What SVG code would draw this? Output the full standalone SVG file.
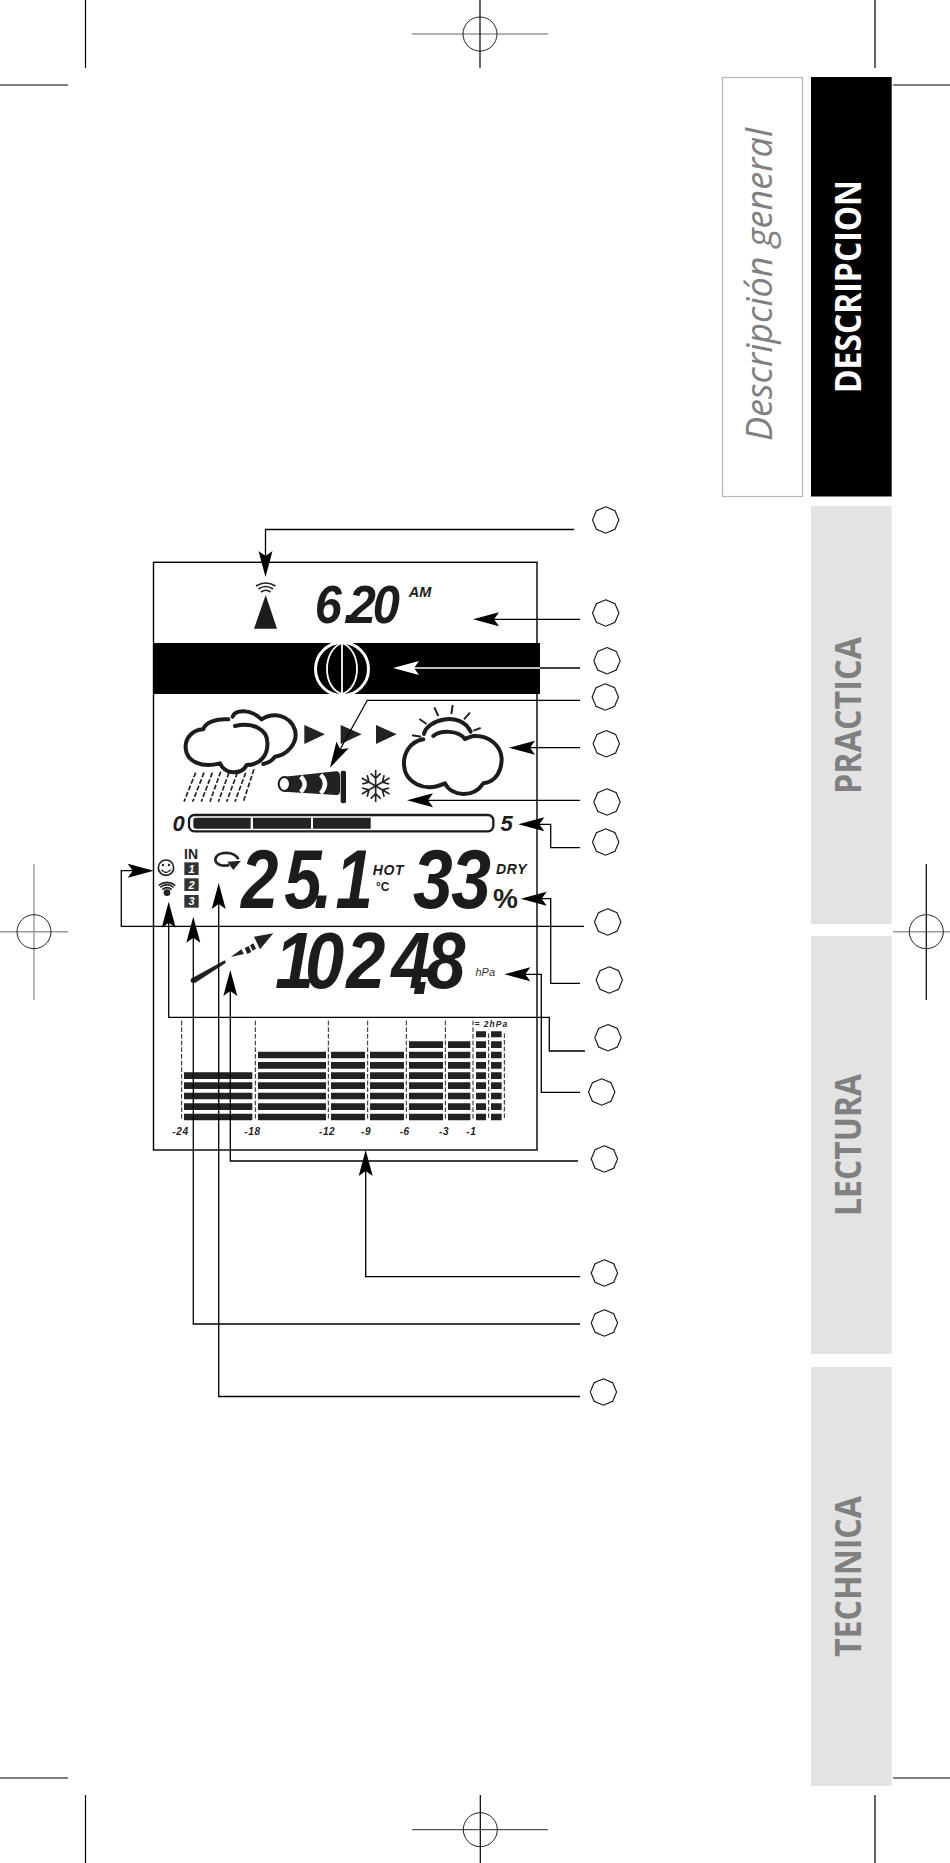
<svg xmlns="http://www.w3.org/2000/svg" width="950" height="1863" viewBox="0 0 950 1863">
<style>
text{font-family:"Liberation Sans",Arial,sans-serif}
.lcd{font-weight:700;font-style:italic;fill:#1c1c1c}
.tab{font-family:"Open Sans","Noto Sans",sans-serif;font-weight:700;font-size:35px;fill:#808080}
.conn{fill:none;stroke:#000;stroke-width:1.3}
.bk{marker-end:url(#ah)}
.oct{fill:#fff;stroke:#111;stroke-width:1.1}
.mk{stroke:#000;stroke-width:1.2;fill:none}
.mg{stroke:#999;stroke-width:1.4;fill:none}
.ic{fill:none;stroke:#1c1c1c;stroke-width:12;stroke-linecap:round;stroke-linejoin:round}
.bar{fill:#222}
.dv{stroke:#222;stroke-width:3;stroke-dasharray:14 6;fill:none}
.tk{font-weight:700;font-style:italic;font-size:10px;letter-spacing:.6px;fill:#222}
</style>
<defs>
<marker id="ah" markerUnits="userSpaceOnUse" markerWidth="32" markerHeight="18" viewBox="0 0 32 18" refX="26" refY="9" orient="auto"><path d="M5 2L31 9L5 16L10 9Z" fill="#000"/></marker>
<marker id="aw" markerUnits="userSpaceOnUse" markerWidth="32" markerHeight="18" viewBox="0 0 32 18" refX="26" refY="9" orient="auto"><path d="M5 2L31 9L5 16L10 9Z" fill="#fff"/></marker>
<polygon id="o" class="oct" points="0,-13.2 9.3,-9.3 13.2,0 9.3,9.3 0,13.2 -9.3,9.3 -13.2,0 -9.3,-9.3"/>
</defs>
<rect width="950" height="1863" fill="#fff"/>

<g id="crop-marks">
<path class="mk" d="M85.5 0V68M0 85H68M875 0V68M893 85H950M0 1778H68M85.5 1795V1863M893 1778H950M875 1795V1863"/>
<path class="mg" d="M412 34H548M34 864V1000M0 931.7H68M893 931.7H950"/>
<path class="mk" d="M480 0V68M926.3 864V1000M480.3 1795V1863"/>
<path d="M412 1829.7H548" stroke="#555" stroke-width="1.3"/>
<g fill="none" stroke="#222" stroke-width="1"><circle cx="480" cy="34" r="17"/><circle cx="34" cy="931.7" r="17"/><circle cx="926.3" cy="931.7" r="17"/><circle cx="480.3" cy="1829.7" r="17"/></g>
</g>

<g id="tab-general"><rect x="722.5" y="77.5" width="80" height="419" fill="#fff" stroke="#b5b5b5" stroke-width="1.2"/>
<text transform="translate(772.3 441) rotate(-90)" font-style="italic" font-size="36" fill="#808080" textLength="313" lengthAdjust="spacingAndGlyphs" style="font-family:'Open Sans','Noto Sans',sans-serif">Descripción general</text></g>
<g id="tab-descripcion"><rect x="811" y="77" width="80.7" height="419.5" fill="#000"/>
<text class="tab" transform="translate(861 393) rotate(-90)" style="fill:#fff" textLength="213" lengthAdjust="spacingAndGlyphs">DESCRIPCION</text></g>
<g id="tab-practica"><rect x="811" y="506" width="80.7" height="418" fill="#e3e3e3"/>
<text class="tab" transform="translate(861 794) rotate(-90)" textLength="157" lengthAdjust="spacingAndGlyphs">PRACTICA</text></g>
<g id="tab-lectura"><rect x="811" y="936" width="80.7" height="418" fill="#e3e3e3"/>
<text class="tab" transform="translate(861 1216) rotate(-90)" textLength="142" lengthAdjust="spacingAndGlyphs">LECTURA</text></g>
<g id="tab-technica"><rect x="811" y="1367" width="80.7" height="419" fill="#e3e3e3"/>
<text class="tab" transform="translate(861 1657) rotate(-90)" textLength="161" lengthAdjust="spacingAndGlyphs">TECHNICA</text></g>

<g id="display-frame"><rect x="153.5" y="562.3" width="383.5" height="587.7" fill="none" stroke="#000" stroke-width="1.4"/></g>
<g id="band"><rect x="153" y="643" width="387" height="51" fill="#000"/></g>
<g id="globe"><circle cx="342" cy="669" r="26.5" fill="#000" stroke="#fff" stroke-width="3"/>
<path d="M342 643V694M342 643C322 650 322 688 342 694M342 643C362 650 362 688 342 694" fill="none" stroke="#fff" stroke-width="1.8"/>
<rect x="310" y="694" width="64" height="5" fill="#fff"/><rect x="310" y="638" width="64" height="5" fill="#fff"/></g>

<g id="tower"><polygon points="254,628.7 277,628.7 265.7,595" fill="#1c1c1c"/>
<path d="M261 592Q265.7 588.5 270.5 592M258.5 589Q265.7 584 273 589M256 586Q265.7 580 275.5 586" fill="none" stroke="#222" stroke-width="1.6"/></g>
<g id="time"><text class="lcd" transform="translate(314.7 623.3) scale(.92 1)" font-size="53" x="0 31.5 37 63">6.20</text>
<text class="lcd" x="408.7" y="596.7" font-size="14.5">AM</text></g>

<g id="weather" transform="translate(130 500) scale(.33333)">
<path class="ic" d="M295 658C260 655 225 668 220 688C185 690 165 715 167 745C170 785 215 805 270 790C285 825 335 825 350 795C395 795 415 760 412 725C410 690 370 665 315 678"/>
<path class="ic" d="M308 650C315 630 360 625 395 658C430 635 480 645 495 690C505 730 470 765 435 770C425 785 410 790 400 792"/>
<path d="M372 808L340 905M347 818L315 905M322 818L290 905M297 818L265 905M272 815L240 905M247 818L214 905M222 818L188 905M197 818L162 905" fill="none" stroke="#222" stroke-width="5" stroke-dasharray="15 6"/>
<path class="bar" d="M523 675L585 703L523 732ZM632 675L695 703L632 732ZM738 675L800 703L738 732Z"/>
<path class="ic" d="M880 718C840 725 820 760 822 795C825 845 880 880 945 850C965 890 1030 895 1060 850C1100 845 1115 810 1115 775C1112 735 1075 705 1030 708C1015 712 1008 715 1005 717C985 690 930 690 910 708"/>
<path class="ic" d="M882 702C890 660 990 630 1022 695"/>
<path d="M913 622L925 648M968 615L964 642M1020 638L1002 658M1052 684L1030 692M868 657L890 672M846 706L874 710" fill="none" stroke="#222" stroke-width="6"/>
</g>
<g id="windsock" transform="translate(130 500) scale(.33333)">
<rect x="632" y="812" width="16" height="98" rx="6" fill="#1c1c1c"/>
<path class="bar" d="M463 830L618 814C628 814 630 822 630 830V872C630 882 625 885 618 885L463 875Z"/>
<ellipse cx="463" cy="852" rx="17" ry="21" fill="#fff" stroke="#1c1c1c" stroke-width="6"/>
<path d="M512 830Q536 852 512 876M572 824Q598 850 572 880" fill="none" stroke="#fff" stroke-width="13"/>
</g>
<g id="snowflake" transform="translate(130 500) scale(.33333)">
<g fill="none" stroke="#222" stroke-width="5"><path d="M737 810V906M722 820L737 835L752 820M722 896L737 881L752 896"/>
<path transform="rotate(60 737 858)" d="M737 810V906M722 820L737 835L752 820M722 896L737 881L752 896"/>
<path transform="rotate(120 737 858)" d="M737 810V906M722 820L737 835L752 820M722 896L737 881L752 896"/></g>
</g>
<g id="level-bar" transform="translate(130 500) scale(.33333)">
<rect x="177" y="945" width="913" height="49" rx="16" fill="#fff" stroke="#1c1c1c" stroke-width="7"/>
<path class="bar" d="M198 953H362V986H198Q190 986 190 978V961Q190 953 198 953ZM369 953H543V986H369ZM549 953H722V986H549Z"/>
</g>
<g id="level-labels"><text class="lcd" x="172.5" y="830.5" font-size="22">0</text><text class="lcd" x="500.5" y="830.5" font-size="22">5</text></g>

<g id="status-icons" transform="translate(110 820) scale(.33333)">
<circle cx="168" cy="143" r="23" fill="none" stroke="#222" stroke-width="5"/>
<circle cx="159" cy="135" r="3.5" fill="#222"/><circle cx="177" cy="135" r="3.5" fill="#222"/>
<path d="M154 149Q168 166 182 149" fill="none" stroke="#222" stroke-width="4"/>
<circle cx="171" cy="218" r="10" fill="#222"/>
<path d="M157 209Q171 197 185 209M151 202Q171 186 191 202M146 196Q171 178 196 196" fill="none" stroke="#222" stroke-width="5"/>
<path d="M385 118C375 92 320 92 316 118C316 135 340 140 358 135" fill="none" stroke="#222" stroke-width="8"/>
<path class="bar" d="M352 125L393 122L370 150Z"/>
<rect x="223" y="127" width="43" height="38" fill="#333"/><rect x="223" y="175" width="43" height="38" fill="#333"/><rect x="223" y="225" width="43" height="38" fill="#333"/>
</g>
<g id="channels"><text x="184" y="858.5" font-size="14" font-weight="700" fill="#222">IN</text>
<g font-size="11" font-weight="700" font-style="italic" fill="#fff" text-anchor="middle"><text x="191.5" y="872.7">1</text><text x="191.5" y="888.7">2</text><text x="191.5" y="905.3">3</text></g></g>
<g id="temperature"><text class="lcd" transform="translate(241 908.3) scale(.8 1)" font-size="84" x="0 54 91 105 118">25. 1</text>
<text class="lcd" x="372.7" y="875" font-size="14" letter-spacing=".6">HOT</text>
<text x="376" y="890.7" font-size="12" font-weight="700" fill="#222">°C</text></g>
<g id="humidity"><text class="lcd" transform="translate(413 908.3) scale(.85 1)" font-size="84" x="0 45">33</text>
<text class="lcd" x="496" y="874.3" font-size="14" letter-spacing=".6">DRY</text>
<text x="493" y="908" font-size="28" font-weight="700" fill="#222">%</text></g>
<g id="trend" transform="translate(110 820) scale(.33333)">
<path class="bar" d="M243 476L344 421L348 428L256 488Q238 492 243 476ZM362 411L394 388L402 402ZM404 384L416 378L424 396L412 402ZM420 376L430 370L438 386L428 392ZM490 340L432 350L450 388Z"/>
</g>
<g id="pressure"><text class="lcd" transform="translate(275 988.3) scale(.88 1)" font-size="80" x="0 34 81 132 156 172" y="0 0 0 0 6 0">1024.8</text>
<text x="475.5" y="975.7" font-size="11" font-style="italic" fill="#333">hPa</text></g>

<g id="history" transform="translate(140 1000) scale(.33333)">
<path class="dv" d="M125 62V360M346 62V360M565 62V360M683 62V360M799 62V360M916 62V360M999 62V360M1046 100V360M1093 100V360"/>
<g class="bar">
<path d="M132 341h205v20H132zM132 310h205v20H132zM132 278h205v20H132zM132 247h205v20H132zM132 217h205v20H132z"/>
<path d="M354 341h204v20H354zM354 310h204v20H354zM354 278h204v20H354zM354 247h204v20H354zM354 217h204v20H354zM354 186h204v20H354zM354 155h204v20H354z"/>
<path d="M573 341h102v20H573zM573 310h102v20H573zM573 278h102v20H573zM573 247h102v20H573zM573 217h102v20H573zM573 186h102v20H573zM573 155h102v20H573z"/>
<path d="M690 341h102v20H690zM690 310h102v20H690zM690 278h102v20H690zM690 247h102v20H690zM690 217h102v20H690zM690 186h102v20H690zM690 155h102v20H690z"/>
<path d="M807 341h102v20H807zM807 310h102v20H807zM807 278h102v20H807zM807 247h102v20H807zM807 217h102v20H807zM807 186h102v20H807zM807 155h102v20H807zM807 124h102v20H807z"/>
<path d="M924 341h67v20H924zM924 310h67v20H924zM924 278h67v20H924zM924 247h67v20H924zM924 217h67v20H924zM924 186h67v20H924zM924 155h67v20H924zM924 124h67v20H924z"/>
<path d="M1008 341h30v20H1008zM1008 310h30v20H1008zM1008 278h30v20H1008zM1008 247h30v20H1008zM1008 217h30v20H1008zM1008 186h30v20H1008zM1008 155h30v20H1008zM1008 124h30v20H1008zM1008 94h30v18H1008z"/>
<path d="M1053 341h32v20H1053zM1053 310h32v20H1053zM1053 278h32v20H1053zM1053 247h32v20H1053zM1053 217h32v20H1053zM1053 186h32v20H1053zM1053 155h32v20H1053zM1053 124h32v20H1053zM1053 94h32v18H1053z"/>
</g></g>
<g id="history-labels">
<text class="tk" x="172.3" y="1135">-24</text><text class="tk" x="244.3" y="1135">-18</text><text class="tk" x="319" y="1135">-12</text><text class="tk" x="361" y="1135">-9</text><text class="tk" x="399.7" y="1135">-6</text><text class="tk" x="439" y="1135">-3</text><text class="tk" x="466.3" y="1135">-1</text>
<text x="474.5" y="1026.5" font-size="8.5" font-weight="700" font-style="italic" letter-spacing="1" fill="#222">= 2hPa</text></g>

<g id="connectors">
<path class="conn bk" d="M574 529.5H265.5V572"/>
<path class="conn bk" d="M580 619.3H478"/>
<path d="M540 668H580" class="conn"/>
<path d="M540 668H398" fill="none" stroke="#fff" stroke-width="1.3" marker-end="url(#aw)"/>
<path class="conn bk" d="M580 700.3H367.3L332.4 763.3"/>
<path class="conn bk" d="M580 747.7H514"/>
<path class="conn bk" d="M580 800.3H412"/>
<path class="conn bk" d="M580 847.7H550.7V824.3H523.3"/>
<path class="conn bk" d="M584 926.3H121.3V870.7H148.7"/>
<path class="conn bk" d="M580 983.3H550.7V898.7H525.7"/>
<path class="conn bk" d="M585 1051H549.3V1017.3H168.7V906.7"/>
<path class="conn bk" d="M580 1092.3H541.3V974.3H509.3"/>
<path class="conn bk" d="M578 1161H230.3V975"/>
<path class="conn bk" d="M580 1276.6H365.7V1155"/>
<path class="conn bk" d="M580 1324H193.3V921.7"/>
<path class="conn bk" d="M580 1396.5H218.7V888"/>
</g>

<g id="callout-1"><use href="#o" x="605.7" y="520"/></g>
<g id="callout-2"><use href="#o" x="605.7" y="613"/></g>
<g id="callout-3"><use href="#o" x="607" y="660.7"/></g>
<g id="callout-4"><use href="#o" x="605.3" y="697"/></g>
<g id="callout-5"><use href="#o" x="606.3" y="743.7"/></g>
<g id="callout-6"><use href="#o" x="607" y="802"/></g>
<g id="callout-7"><use href="#o" x="605.7" y="842"/></g>
<g id="callout-8"><use href="#o" x="607.7" y="922"/></g>
<g id="callout-9"><use href="#o" x="609.3" y="980"/></g>
<g id="callout-10"><use href="#o" x="608" y="1037.7"/></g>
<g id="callout-11"><use href="#o" x="601.7" y="1092"/></g>
<g id="callout-12"><use href="#o" x="604.4" y="1159"/></g>
<g id="callout-13"><use href="#o" x="604.4" y="1273"/></g>
<g id="callout-14"><use href="#o" x="604.4" y="1323"/></g>
<g id="callout-15"><use href="#o" x="603.4" y="1392"/></g>
</svg>
